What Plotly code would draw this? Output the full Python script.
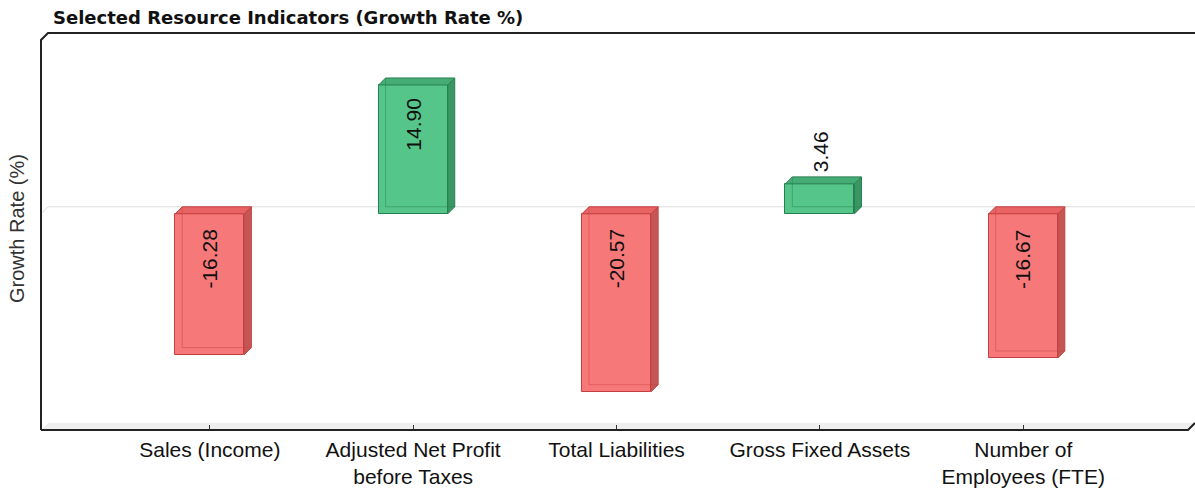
import plotly.graph_objects as go

# ---- data ----
categories = [
    "Sales (Income)",
    "Adjusted Net Profit<br>before Taxes",
    "Total Liabilities",
    "Gross Fixed Assets",
    "Number of<br>Employees (FTE)",
]
growth = [-16.28, 14.90, -20.57, 3.46, -16.67]

# ---- geometry (pixels / axis units) ----
W, H = 1195, 491
ML, MR, MT, MB = 41, 7, 40, 61
Y_RANGE = [-25, 20.1]
X_RANGE = [-0.83, 4.81]
DEPTH = 7          # 3D depth offset in pixels
BAR_W = 0.34

pw, ph = W - ML - MR, H - MT - MB
px_x = pw / (X_RANGE[1] - X_RANGE[0])
px_y = ph / (Y_RANGE[1] - Y_RANGE[0])
ddx, ddy = DEPTH / px_x, DEPTH / px_y        # depth in data units
dxp, dyp = DEPTH / pw, DEPTH / ph            # depth in paper units

STYLE = {
    "pos": dict(front="rgba(72,192,128,0.92)", edge="rgb(38,128,78)",
                side="rgb(58,150,100)", top="rgb(70,172,118)"),
    "neg": dict(front="rgba(246,108,108,0.92)", edge="rgb(196,64,64)",
                side="rgb(196,86,86)", top="rgb(232,100,100)"),
}
FONT = "Arial, Liberation Sans, sans-serif"

fig = go.Figure()

xs = list(range(len(categories)))
kinds = ["pos" if v >= 0 else "neg" for v in growth]

# front faces
fig.add_trace(go.Bar(
    x=xs, y=growth, width=BAR_W,
    marker=dict(color=[STYLE[k]["front"] for k in kinds],
                line=dict(color=[STYLE[k]["edge"] for k in kinds], width=1)),
    hoverinfo="skip", showlegend=False,
))

# depth faces (side + top) and back edges seen through the translucent front
for i, v in enumerate(growth):
    s = STYLE[kinds[i]]
    x0, x1 = i - BAR_W / 2, i + BAR_W / 2
    lo, hi = min(0, v), max(0, v)
    side_x = [x1, x1 + ddx, x1 + ddx, x1, x1]
    side_y = [lo, lo + ddy, hi + ddy, hi, lo]
    top_x = [x0, x0 + ddx, x1 + ddx, x1, x0]
    top_y = [hi, hi + ddy, hi + ddy, hi, hi]
    for px_, py_, col in ((side_x, side_y, s["side"]), (top_x, top_y, s["top"])):
        fig.add_trace(go.Scatter(
            x=px_, y=py_, mode="lines", fill="toself", fillcolor=col,
            line=dict(color=s["edge"], width=1),
            hoverinfo="skip", showlegend=False,
        ))
    fig.add_trace(go.Scatter(
        x=[x0 + ddx, x0 + ddx, x1 + ddx], y=[hi + ddy, lo + ddy, lo + ddy],
        mode="lines", line=dict(color=s["edge"], width=1), opacity=0.45,
        hoverinfo="skip", showlegend=False,
    ))

# value labels
annotations = []
for i, v in enumerate(growth):
    txt = f"{v:.2f}"
    outside = abs(v) * px_y < 80
    if outside:
        y, anchor, shift = v, "bottom", 10
    elif v < 0:
        y, anchor, shift = 0, "top", -13
    else:
        y, anchor, shift = v, "top", -11
    annotations.append(dict(
        x=i, y=y, xref="x", yref="y", text=txt, showarrow=False,
        textangle=-90, xanchor="center", yanchor=anchor, yshift=shift,
        font=dict(family=FONT, size=21, color="#111111"),
    ))

# y axis title
annotations.append(dict(
    x=(17 - ML) / pw, y=(H - MB - 229) / ph, xref="paper", yref="paper",
    text="Growth Rate (%)", showarrow=False, textangle=-90,
    xanchor="center", yanchor="middle",
    font=dict(family=FONT, size=20, color="#333333"),
))

shapes = [
    # floor of the 3D box
    dict(type="path", xref="paper", yref="paper", layer="below",
         path=f"M0,0 L1,0 L{1+dxp},{dyp} L{dxp},{dyp} Z",
         fillcolor="#eeeeee", line=dict(width=0)),
    # zero line on the back wall
    dict(type="line", xref="paper", yref="y", layer="below",
         x0=dxp, x1=1 + dxp, y0=ddy, y1=ddy,
         line=dict(color="#dddddd", width=1)),
    dict(type="line", xref="paper", yref="y", layer="below",
         x0=0, x1=dxp, y0=0, y1=ddy,
         line=dict(color="#dddddd", width=1)),
    # frame: left wall edge + top edge
    dict(type="path", xref="paper", yref="paper", layer="above",
         path=f"M0,0 L0,1 L{dxp},{1+dyp} L{1+dxp},{1+dyp}",
         line=dict(color="#222222", width=2)),
    # frame: bottom edge
    dict(type="path", xref="paper", yref="paper", layer="above",
         path=f"M0,0 L1,0 L{1+dxp},{dyp}",
         line=dict(color="#222222", width=2)),
]

fig.update_layout(
    width=W, height=H,
    margin=dict(l=ML, r=MR, t=MT, b=MB, pad=0, autoexpand=False),
    paper_bgcolor="white", plot_bgcolor="white",
    title=dict(
        text="Selected Resource Indicators (Growth Rate %)",
        xref="container", yref="container",
        x=53 / W, y=1 - 18 / H, xanchor="left", yanchor="middle",
        font=dict(family="DejaVu Sans, sans-serif", size=18, color="#111111",
                  weight="bold"),
    ),
    xaxis=dict(
        range=X_RANGE, tickmode="array", tickvals=xs, ticktext=categories,
        ticks="inside", ticklen=5, tickwidth=1, tickcolor="#333333",
        showgrid=False, zeroline=False, showline=False,
        tickfont=dict(family=FONT, size=21, color="#111111"),
        ticklabelstandoff=5, automargin=False,
        fixedrange=True,
    ),
    yaxis=dict(
        range=Y_RANGE, showticklabels=False, showgrid=False,
        zeroline=False, showline=False, ticks="", fixedrange=True,
        automargin=False,
    ),
    annotations=annotations,
    shapes=shapes,
    bargap=0,
)

fig.write_html("out.html")
